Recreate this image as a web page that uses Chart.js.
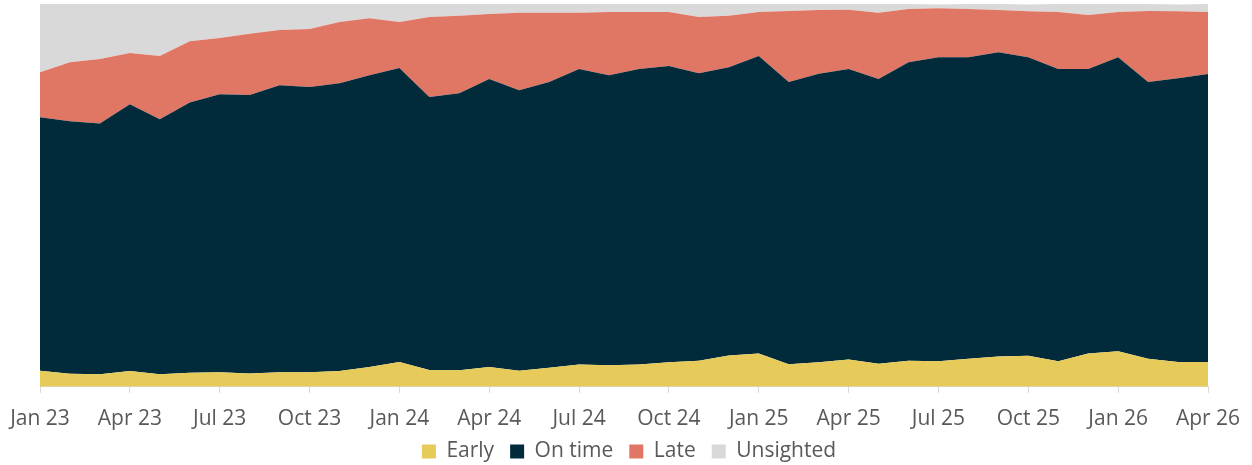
<!DOCTYPE html>
<html>
<head>
<meta charset="utf-8">
<script src="https://cdn.jsdelivr.net/npm/chart.js@4"></script>
<style>
    body { margin: 0; background: #fff; }
    #wrap { width: 1252px; height: 465px; }
</style>
</head>
<body>
<div id="wrap"><canvas id="chart" width="1252" height="465"></canvas></div>
<script>
// Months on the x axis
const months = [
    "Jan 23", "Feb 23", "Mar 23", "Apr 23", "May 23", "Jun 23", "Jul 23", "Aug 23", "Sep 23", "Oct 23", "Nov 23", "Dec 23",
    "Jan 24", "Feb 24", "Mar 24", "Apr 24", "May 24", "Jun 24", "Jul 24", "Aug 24", "Sep 24", "Oct 24", "Nov 24", "Dec 24",
    "Jan 25", "Feb 25", "Mar 25", "Apr 25", "May 25", "Jun 25", "Jul 25", "Aug 25", "Sep 25", "Oct 25", "Nov 25", "Dec 25",
    "Jan 26", "Feb 26", "Mar 26", "Apr 26"
];

// Share of services (%) per month
const early = [
    4.2, 3.4, 3.3, 4.1, 3.3, 3.7, 3.8, 3.5, 3.8, 3.8, 4.1, 5.2,
    6.5, 4.4, 4.3, 5.2, 4.2, 5.0, 5.8, 5.6, 5.8, 6.4, 6.8, 8.2,
    8.7, 5.9, 6.4, 7.1, 6.0, 6.8, 6.7, 7.3, 7.9, 8.1, 6.7, 8.7,
    9.3, 7.3, 6.5, 6.5
];
const onTime = [
    66.2, 66.0, 65.5, 69.7, 66.6, 70.6, 72.6, 72.7, 75.0, 74.5, 75.2, 76.2,
    76.8, 71.3, 72.4, 75.2, 73.3, 74.6, 77.2, 75.8, 77.2, 77.4, 75.1, 75.3,
    77.7, 73.7, 75.4, 75.9, 74.4, 78.0, 79.4, 78.8, 79.5, 78.0, 76.3, 74.3,
    76.8, 72.3, 74.1, 75.2
];
const late = [
    11.8, 15.4, 16.8, 13.4, 16.5, 16.0, 14.7, 16.0, 14.4, 15.2, 16.0, 14.9,
    12.0, 20.9, 20.2, 17.0, 20.2, 18.1, 14.7, 16.5, 14.9, 14.1, 14.7, 13.4,
    11.5, 18.6, 16.6, 15.5, 17.3, 13.9, 12.8, 12.6, 11.0, 12.0, 14.9, 14.1,
    11.8, 18.6, 17.5, 16.2
];
const unsighted = [
    17.8, 15.2, 14.4, 12.8, 13.6, 9.7, 8.9, 7.8, 6.8, 6.5, 4.7, 3.7,
    4.7, 3.4, 3.1, 2.6, 2.4, 2.4, 2.4, 2.1, 2.1, 2.1, 3.4, 3.1,
    2.1, 1.8, 1.6, 1.6, 2.4, 1.3, 1.0, 1.3, 1.6, 1.8, 2.1, 2.9,
    2.1, 1.8, 1.8, 2.1
];

const textColor = "#595959";
const fontFamily = "'Open Sans', sans-serif";

function area(label, data, color, fill) {
    return {
        label: label,
        data: data,
        backgroundColor: color,
        borderColor: color,
        borderWidth: 0,
        pointRadius: 0,
        pointHoverRadius: 0,
        pointBorderWidth: 0,
        tension: 0,
        fill: fill,
    };
}

// Make the legend box short (so the plot reaches further down),
// lift its items up closer to the axis labels and draw it unclipped
const legendSpacing = {
    id: "legendSpacing",
    beforeInit(chart) {
        const legend = chart.legend;
        const fit = legend.fit;
        legend.fit = function () {
            fit.call(this);
            this.height -= 28;
        };
        legend.draw = function () {
            this._draw();
        };
    },
    afterLayout(chart) {
        const legend = chart.legend;
        legend.top -= 21;
        legend.bottom -= 21;
        legend.left += 5;
        legend.right += 5;
    },
};

const ctx = document.getElementById("chart").getContext("2d");
const chart = new Chart(ctx, {
    type: "line",
    data: {
        labels: months,
        datasets: [
            area("Early", early, "#E6CA5A", "origin"),
            area("On time", onTime, "#012A3A", "-1"),
            area("Late", late, "#E07664", "-1"),
            area("Unsighted", unsighted, "#D9D9D9", "-1"),
        ],
    },
    plugins: [legendSpacing],
    options: {
        responsive: false,
        animation: false,
        layout: {
            padding: { left: 40, right: 44, top: 4, bottom: 0 },
        },
        plugins: {
            tooltip: { enabled: false },
            legend: {
                position: "bottom",
                labels: {
                    boxWidth: 14,
                    boxHeight: 14,
                    padding: 16,
                    color: textColor,
                    font: { family: fontFamily, size: 21 },
                },
            },
        },
        scales: {
            x: {
                offset: false,
                // let the layout padding alone decide the plot edges
                afterFit: (scale) => {
                    scale.paddingLeft = 0;
                    scale.paddingRight = 0;
                },
                grid: {
                    drawOnChartArea: false,
                    tickLength: 6,
                    color: (c) => (c.index % 3 === 0 ? "#D9D9D9" : "rgba(0,0,0,0)"),
                },
                border: { color: "#D9D9D9" },
                ticks: {
                    autoSkip: false,
                    maxRotation: 0,
                    padding: 14,
                    color: textColor,
                    font: { family: fontFamily, size: 21 },
                    callback: function (value, index) {
                        return index % 3 === 0 ? months[index] : "";
                    },
                },
            },
            y: {
                display: false,
                stacked: true,
                min: 0,
                max: 100,
            },
        },
    },
});
</script>
</body>
</html>
